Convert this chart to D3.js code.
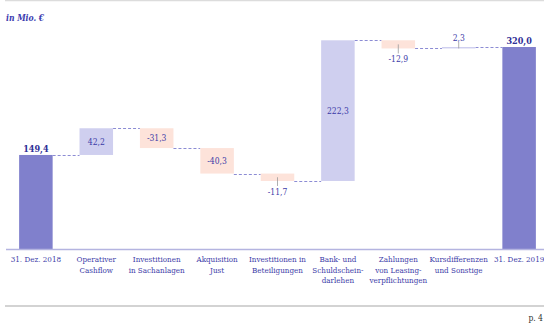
<!DOCTYPE html>
<html>
<head>
<meta charset="utf-8">
<script src="https://cdn.jsdelivr.net/npm/d3@7"></script>
<style>
  html, body { margin: 0; padding: 0; background: #fff; }
  svg { display: block; }
  svg text { font-family: "DejaVu Serif Condensed", "DejaVu Serif", serif; font-stretch: condensed; }
  .cat { fill: #3c3ca8; font-size: 8px; }
  .val { fill: #3c3ca8; font-size: 8.5px; }
  .tot { fill: #2e2e96; font-size: 9px; font-weight: bold; }
</style>
</head>
<body>
<div id="chart"></div>
<script>
// categories (multi-line labels) and values in Mio. €
const categories = [
  ["31. Dez. 2018"],
  ["Operativer", "Cashflow"],
  ["Investitionen", "in Sachanlagen"],
  ["Akquisition", "Just"],
  ["Investitionen in", "Beteiligungen"],
  ["Bank- und", "Schuldschein-", "darlehen"],
  ["Zahlungen", "von Leasing-", "verpflichtungen"],
  ["Kursdifferenzen", "und Sonstige"],
  ["31. Dez. 2019"]
];
const startValue = 149.4;
const deltas = [42.2, -31.3, -40.3, -11.7, 222.3, -12.9, 2.3];
const endValue = 320.0;
// small steps get their label outside the bar: "below" / "above"
const outsideLabels = { 4: "below", 6: "below", 7: "above" };

(function () {
  "use strict";

  const W = 544, H = 323;
  const fmt = v => v.toFixed(1).replace(".", ",");

  // build waterfall rows
  const rows = [];
  let run = startValue;
  rows.push({ i: 0, y0: 0, y1: startValue, type: "total", v: startValue });
  deltas.forEach((d, k) => {
    rows.push({ i: k + 1, y0: run, y1: run + d, type: d >= 0 ? "pos" : "neg", v: d });
    run += d;
  });
  rows.push({ i: categories.length - 1, y0: 0, y1: endValue, type: "total", v: endValue });

  const colors = { total: "#8080cc", pos: "#cfcfef", neg: "#fde3da" };

  const x = d3.scaleBand()
    .domain(d3.range(categories.length))
    .range([1, 554])
    .paddingInner(0.445)
    .paddingOuter(0.3);

  const y = d3.scaleLinear()
    .domain([0, 320])
    .range([249.5, 47]);

  const svg = d3.select("#chart").append("svg")
    .attr("width", W).attr("height", H);

  // top and bottom rules
  svg.append("line").attr("x1", 5).attr("x2", W).attr("y1", 0.5).attr("y2", 0.5)
    .attr("stroke", "#dcdcdc").attr("stroke-width", 1.5);
  svg.append("line").attr("x1", 5).attr("x2", W).attr("y1", 306).attr("y2", 306)
    .attr("stroke", "#c4c4c4").attr("stroke-width", 1.5);

  svg.append("text")
    .attr("x", 6).attr("y", 21)
    .attr("fill", "#3c3cb0")
    .attr("font-size", 8.5).attr("font-style", "italic").attr("font-weight", "bold")
    .text("in Mio. €");

  svg.append("text")
    .attr("x", 543).attr("y", 321)
    .attr("text-anchor", "end")
    .attr("fill", "#333").attr("font-size", 8.5)
    .text("p. 4");

  // connectors
  const conn = svg.append("g")
    .attr("stroke", "#8c8cd4").attr("stroke-width", 1).attr("stroke-dasharray", "3,2");
  rows.slice(0, -1).forEach((r, k) => {
    const next = rows[k + 1];
    conn.append("line")
      .attr("x1", x(r.i) + x.bandwidth()).attr("x2", x(next.i))
      .attr("y1", Math.round(y(r.y1)) + 0.5).attr("y2", Math.round(y(r.y1)) + 0.5);
  });

  // bars
  svg.append("g").selectAll("rect")
    .data(rows)
    .join("rect")
    .attr("x", d => x(d.i))
    .attr("width", x.bandwidth())
    .attr("y", d => y(Math.max(d.y0, d.y1)))
    .attr("height", d => Math.max(1, Math.abs(y(d.y0) - y(d.y1))))
    .attr("fill", d => colors[d.type]);

  // baseline
  svg.append("line").attr("x1", 6).attr("x2", W).attr("y1", 249.5).attr("y2", 249.5)
    .attr("stroke", "#b4b4e0").attr("stroke-width", 1.5);

  // value labels
  rows.forEach(r => {
    const cx = x(r.i) + x.bandwidth() / 2;
    const top = y(Math.max(r.y0, r.y1)), bot = y(Math.min(r.y0, r.y1));
    if (r.type === "total") {
      svg.append("text").attr("class", "tot")
        .attr("x", cx).attr("y", top - 3)
        .attr("text-anchor", "middle").text(fmt(r.v));
    } else if (outsideLabels[r.i] === "below") {
      svg.append("line").attr("x1", cx).attr("x2", cx)
        .attr("y1", (top + bot) / 2).attr("y2", bot + 5)
        .attr("stroke", "#9a9a9a").attr("stroke-width", 0.8);
      svg.append("text").attr("class", "val")
        .attr("x", cx).attr("y", bot + 14)
        .attr("text-anchor", "middle").text(fmt(r.v));
    } else if (outsideLabels[r.i] === "above") {
      svg.append("line").attr("x1", cx).attr("x2", cx)
        .attr("y1", top - 5).attr("y2", bot)
        .attr("stroke", "#9a9a9a").attr("stroke-width", 0.8);
      svg.append("text").attr("class", "val")
        .attr("x", cx).attr("y", top - 6)
        .attr("text-anchor", "middle").text(fmt(r.v));
    } else {
      svg.append("text").attr("class", "val")
        .attr("x", cx).attr("y", (top + bot) / 2 + 3)
        .attr("text-anchor", "middle").text(fmt(r.v));
    }
  });

  // category labels
  const cats = svg.append("g");
  categories.forEach((lines, i) => {
    const t = cats.append("text").attr("class", "cat")
      .attr("x", x(i) + x.bandwidth() / 2)
      .attr("y", 262)
      .attr("text-anchor", "middle");
    lines.forEach((ln, j) => {
      t.append("tspan")
        .attr("x", x(i) + x.bandwidth() / 2)
        .attr("dy", j === 0 ? 0 : 10.5)
        .text(ln);
    });
  });
})();
</script>
</body>
</html>
